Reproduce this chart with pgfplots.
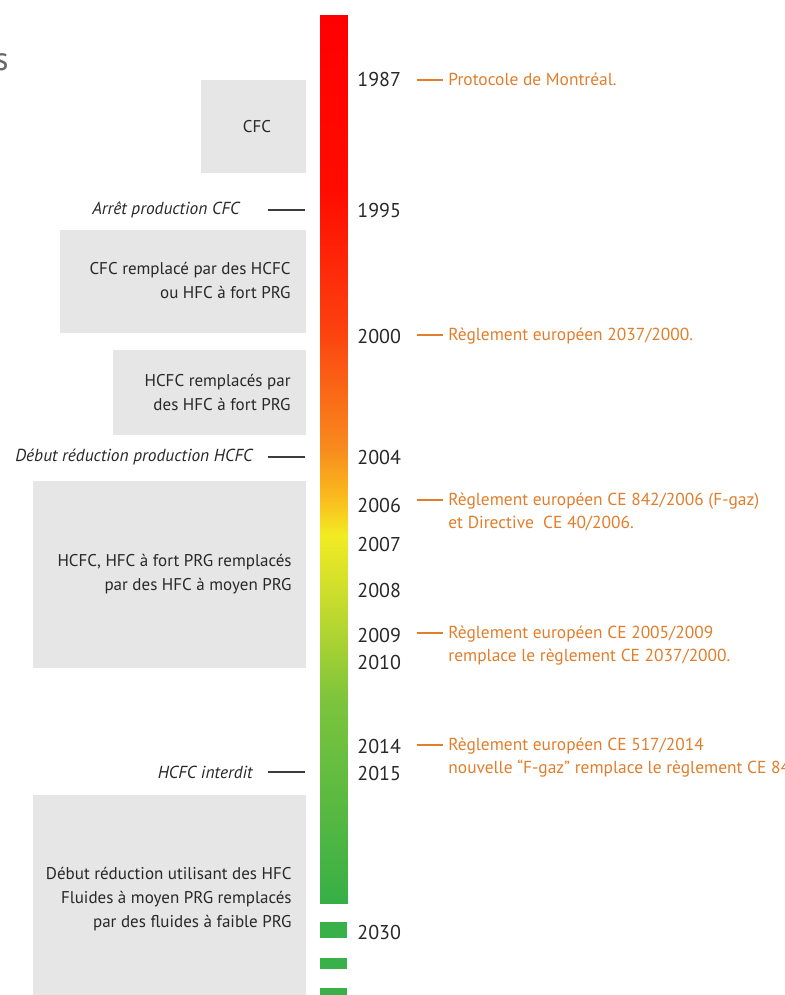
\documentclass[border=0pt]{standalone}
\usepackage{pgfplots}
\pgfplotsset{compat=1.18}
\usepackage{fontspec}
\setmainfont{PT Sans}
\definecolor{boxgray}{RGB}{230,230,230}
\definecolor{txt}{RGB}{40,40,40}
\definecolor{linegray}{RGB}{60,60,60}
\definecolor{orng}{RGB}{224,126,44}
\definecolor{dgreen}{RGB}{57,176,72}
\begin{document}
\begin{tikzpicture}
\begin{axis}[scale only axis, width=392.5pt, height=497.5pt,
  xmin=0, xmax=785, ymin=0, ymax=995, y dir=reverse, axis lines=none, clip=false,
  colormap={bar}{rgb255(15pt)=(255,0,0); rgb255(190pt)=(255,12,0); rgb255(330pt)=(252,65,15); rgb255(450pt)=(248,140,30); rgb255(500pt)=(250,190,30); rgb255(535pt)=(242,235,35); rgb255(600pt)=(200,220,45); rgb255(700pt)=(125,196,60); rgb255(903pt)=(55,175,70)},
  point meta min=15, point meta max=903]
\coordinate (A) at (axis cs:0,0);
\coordinate (B) at (axis cs:785,995);
% grey boxes
\addplot[fill=boxgray, draw=none] coordinates {(201,80) (306,80) (306,173) (201,173)} -- cycle;
\addplot[fill=boxgray, draw=none] coordinates {(60,230) (306,230) (306,333) (60,333)} -- cycle;
\addplot[fill=boxgray, draw=none] coordinates {(113,350) (306,350) (306,435) (113,435)} -- cycle;
\addplot[fill=boxgray, draw=none] coordinates {(33,481) (306,481) (306,668) (33,668)} -- cycle;
\addplot[fill=boxgray, draw=none] coordinates {(33,795) (306,795) (306,1010) (33,1010)} -- cycle;
% gradient bar
\addplot[patch, patch type=rectangle, shader=interp, point meta=explicit] table[meta=c] {
x y c
320 15 15
347 15 15
347 190 190
320 190 190
320 190 190
347 190 190
347 330 330
320 330 330
320 330 330
347 330 330
347 450 450
320 450 450
320 450 450
347 450 450
347 500 500
320 500 500
320 500 500
347 500 500
347 535 535
320 535 535
320 535 535
347 535 535
347 600 600
320 600 600
320 600 600
347 600 600
347 700 700
320 700 700
320 700 700
347 700 700
347 903 903
320 903 903
};
% dashes after the bar
\addplot[fill=dgreen, draw=none] coordinates {(320,922) (347,922) (347,938) (320,938)} -- cycle;
\addplot[fill=dgreen, draw=none] coordinates {(320,958) (347,958) (347,969) (320,969)} -- cycle;
\addplot[fill=dgreen, draw=none] coordinates {(320,988) (347,988) (347,1000) (320,1000)} -- cycle;
% left ticks
\addplot[linegray, line width=0.9pt] coordinates {(268,210) (305,210)};
\addplot[linegray, line width=0.9pt] coordinates {(268,457) (305,457)};
\addplot[linegray, line width=0.9pt] coordinates {(268,772) (305,772)};
% right orange ticks
\addplot[orng, line width=0.9pt] coordinates {(417,80) (443,80)};
\addplot[orng, line width=0.9pt] coordinates {(417,335) (443,335)};
\addplot[orng, line width=0.9pt] coordinates {(417,500) (443,500)};
\addplot[orng, line width=0.9pt] coordinates {(417,633) (443,633)};
\addplot[orng, line width=0.9pt] coordinates {(417,745) (443,745)};
% stray letter at left edge
\node[inner sep=0pt, anchor=east, text=gray!80!black, font=\fontsize{16.5}{18}\selectfont] at (axis cs:9,62) {s};
% box texts
\begin{scope}[every node/.append style={inner sep=0pt, text=txt, font=\fontsize{8.5}{12}\selectfont, align=right}]
\node[anchor=center] at (axis cs:257,127) {CFC};
\node[anchor=east] at (axis cs:291,280) {CFC remplacé par des HCFC\\ou HFC à fort PRG};
\node[anchor=east] at (axis cs:291,392) {HCFC remplacés par\hspace{0.3em}\\des HFC à fort PRG};
\node[anchor=east] at (axis cs:292,574) {HCFC, HFC à fort PRG remplacés\hspace{0.3em}\\par des HFC à moyen PRG};
\node[anchor=east] at (axis cs:292,899) {Début réduction utilisant des HFC\\Fluides à moyen PRG remplacés\hspace{0.3em}\\par des fluides à faible PRG};
\end{scope}
% italic labels
\begin{scope}[every node/.append style={inner sep=0pt, text=txt, font=\itshape\fontsize{8.7}{10}\selectfont}]
\node[anchor=east] at (axis cs:240,210) {Arrêt production CFC};
\node[anchor=east] at (axis cs:253,457) {Début réduction production HCFC};
\node[anchor=east] at (axis cs:253,772) {HCFC interdit};
\end{scope}
% years
\begin{scope}[every node/.append style={inner sep=0pt, text=txt, font=\fontsize{10}{12}\selectfont, anchor=west}]
\node at (axis cs:357,80) {1987};
\node at (axis cs:357,210) {1995};
\node at (axis cs:357,336) {2000};
\node at (axis cs:357,457) {2004};
\node at (axis cs:357,505) {2006};
\node at (axis cs:357,544) {2007};
\node at (axis cs:357,590) {2008};
\node at (axis cs:357,635) {2009};
\node at (axis cs:357,662) {2010};
\node at (axis cs:357,746) {2014};
\node at (axis cs:357,773) {2015};
\node at (axis cs:357,932) {2030};
\end{scope}
% orange notes
\begin{scope}[every node/.append style={inner sep=0pt, text=orng, font=\fontsize{8.7}{11.5}\selectfont, anchor=west, align=left}]
\node at (axis cs:448,79) {Protocole de Montréal.};
\node at (axis cs:448,336) {Règlement européen 2037/2000.};
\node at (axis cs:448,511.5) {Règlement européen CE 842/2006 (F-gaz)\\et Directive\ \ CE 40/2006.};
\node at (axis cs:448,645.5) {Règlement européen CE 2005/2009\\remplace le règlement CE 2037/2000.};
\node at (axis cs:448,758) {Règlement européen CE 517/2014\\nouvelle “F-gaz” remplace le règlement CE 842/2006.};
\end{scope}
\end{axis}
\pgfresetboundingbox
\path[use as bounding box] (A) rectangle (B);
\end{tikzpicture}
\end{document}
